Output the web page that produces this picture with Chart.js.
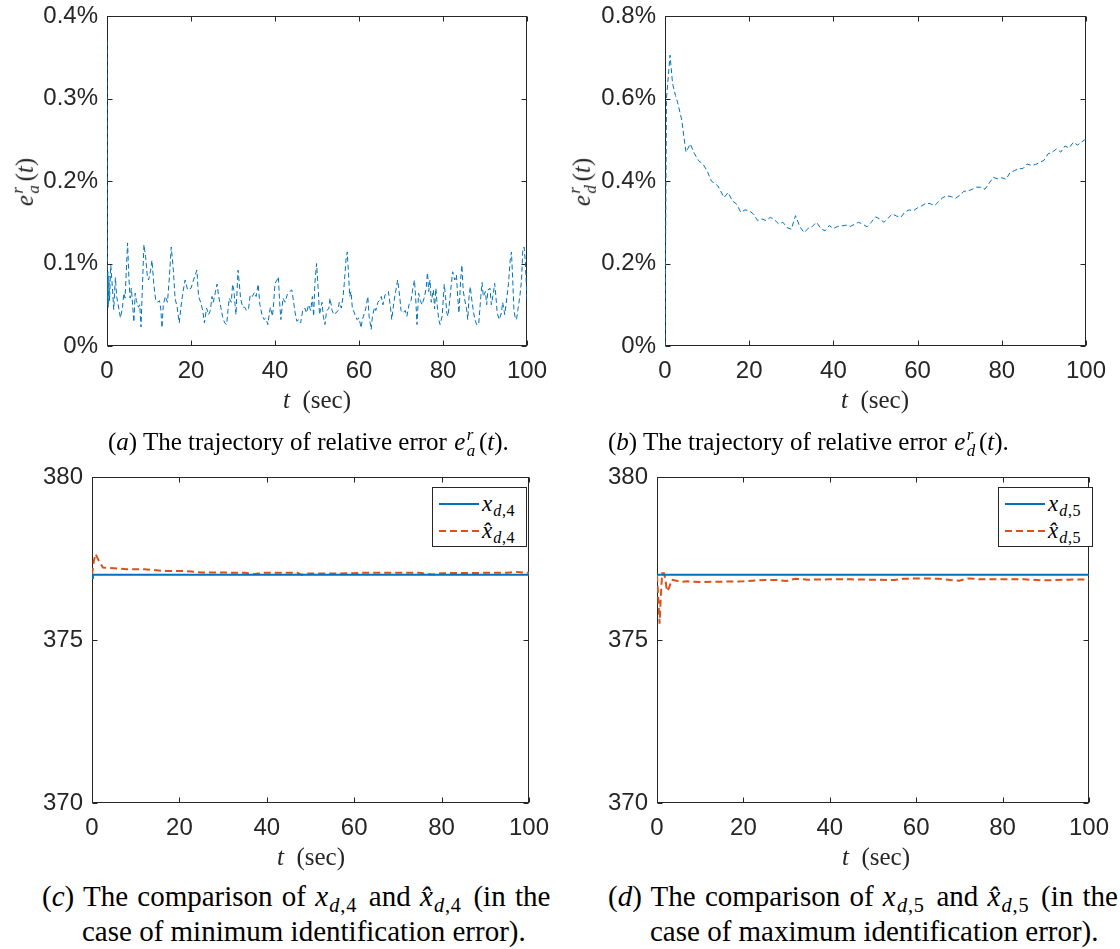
<!DOCTYPE html>
<html><head><meta charset="utf-8">
<script src="https://cdn.jsdelivr.net/npm/chart.js@4/dist/chart.umd.min.js"></script>
<style>
html,body{margin:0;padding:0;background:#fff;}
body{width:1120px;height:949px;position:relative;overflow:hidden;}
canvas{position:absolute;}
.t{position:absolute;font-family:"Liberation Serif","Times New Roman",serif;white-space:nowrap;line-height:1;}
.ax{font-size:25px;color:#262626;transform:translate(-50%,-50%);}
.yt{font-size:25px;color:#262626;transform:translate(-50%,-50%) rotate(-90deg);}
.cap{font-size:25px;color:#000;}
.cap2{font-size:29px;color:#000;}
.w{word-spacing:2px;}
.st{display:inline-block;vertical-align:-0.38em;font-size:0.68em;line-height:0.95;font-style:italic;text-align:left;margin:0 0.22em 0 0.08em;}
.st span{display:block;}
.m{margin-left:0.04em;}
sub{font-size:0.7em;vertical-align:-0.3em;line-height:0;margin:0 0.12em 0 0.06em;letter-spacing:0.04em;}
.leg{position:absolute;border:1px solid #262626;background:#fff;box-sizing:border-box;}
.lrow{position:absolute;left:0;height:24px;}
.lrow svg{position:absolute;left:5px;top:5px;}
.lrow .t{left:49px;top:0px;font-size:23px;color:#000;}
.lrow sub{margin-right:0;}
</style>
</head><body>
<canvas id="ca" width="560" height="450" style="left:0;top:-30px"></canvas>
<canvas id="cb" width="560" height="450" style="left:560px;top:-30px"></canvas>
<canvas id="cc" width="560" height="450" style="left:0;top:430px"></canvas>
<canvas id="cd" width="560" height="450" style="left:560px;top:430px"></canvas>

<div class="t yt" style="left:26px;top:182px"><i>e</i><span class="st"><span>r</span><span>a</span></span>(<i>t</i>)</div>
<div class="t yt" style="left:583px;top:182px"><i>e</i><span class="st"><span>r</span><span>d</span></span>(<i>t</i>)</div>
<div class="t ax" style="left:317px;top:399px"><i>t</i>&nbsp;&nbsp;(sec)</div>
<div class="t ax" style="left:875px;top:399px"><i>t</i>&nbsp;&nbsp;(sec)</div>
<div class="t ax" style="left:311px;top:856px"><i>t</i>&nbsp;&nbsp;(sec)</div>
<div class="t ax" style="left:876px;top:856px"><i>t</i>&nbsp;&nbsp;(sec)</div>

<div class="t cap" style="left:108px;top:427px">(<i>a</i>) The trajectory of relative error <i class="m">e</i><span class="st"><span>r</span><span>a</span></span>(<i>t</i>).</div>
<div class="t cap" style="left:608px;top:427px">(<i>b</i>) The trajectory of relative error <i class="m">e</i><span class="st"><span>r</span><span>d</span></span>(<i>t</i>).</div>
<div class="t cap2 w" style="left:42px;top:882px">(<i>c</i>) The comparison of <i>x</i><sub><i>d</i>,4</sub> and <i>x̂</i><sub><i>d</i>,4</sub> (in the</div>
<div class="t cap2" style="left:82px;top:917px">case of minimum identification error).</div>
<div class="t cap2 w" style="left:608px;top:882px">(<i>d</i>) The comparison of <i>x</i><sub><i>d</i>,5</sub> and <i>x̂</i><sub><i>d</i>,5</sub> (in the</div>
<div class="t cap2" style="left:650px;top:917px">case of maximum identification error).</div>

<div class="leg" style="left:432px;top:487px;width:95px;height:60px">
  <div class="lrow" style="top:4px"><svg width="42" height="14"><line x1="1" y1="7" x2="41" y2="7" stroke="#0072BD" stroke-width="2"/></svg><div class="t"><i>x</i><sub><i>d</i>,4</sub></div></div>
  <div class="lrow" style="top:31px"><svg width="42" height="14"><line x1="1" y1="7" x2="41" y2="7" stroke="#D95319" stroke-width="2" stroke-dasharray="7,4"/></svg><div class="t"><i>x̂</i><sub><i>d</i>,4</sub></div></div>
</div>
<div class="leg" style="left:998px;top:487px;width:95px;height:60px">
  <div class="lrow" style="top:4px"><svg width="42" height="14"><line x1="1" y1="7" x2="41" y2="7" stroke="#0072BD" stroke-width="2"/></svg><div class="t"><i>x</i><sub><i>d</i>,5</sub></div></div>
  <div class="lrow" style="top:31px"><svg width="42" height="14"><line x1="1" y1="7" x2="41" y2="7" stroke="#D95319" stroke-width="2" stroke-dasharray="7,4"/></svg><div class="t"><i>x̂</i><sub><i>d</i>,5</sub></div></div>
</div>

<script>
// ---------- data ----------
const xTickVals = [0, 20, 40, 60, 80, 100];
const xTickLabels = ['0', '20', '40', '60', '80', '100'];

const aYTickVals = [0, 0.1, 0.2, 0.3, 0.4];
const aYTickLabels = ['0%', '0.1%', '0.2%', '0.3%', '0.4%'];
const bYTickVals = [0, 0.2, 0.4, 0.6, 0.8];
const bYTickLabels = ['0%', '0.2%', '0.4%', '0.6%', '0.8%'];
const cdYTickVals = [370, 375, 380];
const cdYTickLabels = ['370', '375', '380'];

// (a) relative error e_a^r(t), in %
const ta = [0,0.1,0.2,0.3,0.45,0.6,0.9,1.3,1.6,2.0,2.3,2.8,3.2,3.7,4.0,4.3,4.9,5.2,5.5,5.8,6.1,6.4,6.7,7.0,7.5,7.8,8.1,8.4,8.8,9.2,9.6,9.9,10.4,10.7,11.2,11.6,12.1,12.5,12.8,13.1,13.4,13.9,14.4,14.8,15.3,15.8,16.2,16.7,17.2,17.6,18.1,18.6,19.2,20.0,20.6,21.4,21.8,22.3,22.8,23.2,23.7,24.2,24.6,25.0,25.3,25.8,26.2,26.6,27.1,27.5,28.0,28.5,28.8,29.1,29.6,29.9,30.2,30.7,31.2,31.5,31.8,32.3,32.8,33.2,33.7,34.1,34.6,35.1,35.5,36.0,36.4,36.9,37.4,37.8,38.3,38.6,38.9,39.4,39.7,40.0,40.5,40.8,41.1,41.4,41.9,42.4,42.9,43.5,44.0,44.3,44.8,45.2,45.7,46.1,46.6,47.1,47.5,48.0,48.5,48.9,49.2,49.5,49.9,50.3,50.6,51.2,51.5,51.9,52.3,52.8,53.1,53.6,54.0,54.5,55.0,55.3,55.8,56.2,56.5,56.9,57.2,57.5,57.8,58.1,58.4,58.9,59.2,59.5,60.0,60.5,60.8,61.3,61.6,62.1,62.4,62.9,63.2,63.7,64.0,64.5,64.8,65.3,65.7,66.2,66.7,67.0,67.5,67.8,68.3,68.8,69.2,69.7,70.0,70.5,71.0,71.4,71.9,72.4,72.7,73.2,73.5,73.8,74.2,74.6,75.0,75.5,76.0,76.3,76.6,76.9,77.2,77.7,78.0,78.3,78.7,79.0,79.3,79.8,80.3,80.6,80.9,81.2,81.7,82.0,82.3,82.8,83.2,83.5,83.8,84.2,84.5,84.8,85.1,85.6,85.9,86.2,86.5,86.8,87.3,87.6,88.0,88.5,89.0,89.3,89.6,90.1,90.4,90.7,91.2,91.5,92.0,92.3,92.6,92.9,93.4,93.9,94.2,94.7,95.2,95.6,96.0,96.3,96.6,96.9,97.2,97.5,97.8,98.3,98.7,99.0,99.3,99.6,100];
const ea = [0.37,0.05,0.09,0.047,0.085,0.055,0.098,0.07,0.044,0.083,0.06,0.046,0.034,0.047,0.064,0.058,0.125,0.084,0.058,0.07,0.05,0.029,0.064,0.055,0.047,0.05,0.023,0.068,0.123,0.108,0.084,0.08,0.092,0.104,0.072,0.055,0.053,0.055,0.045,0.022,0.05,0.06,0.053,0.08,0.12,0.092,0.058,0.047,0.028,0.047,0.066,0.08,0.068,0.07,0.08,0.092,0.06,0.053,0.043,0.028,0.046,0.038,0.043,0.06,0.053,0.065,0.075,0.06,0.047,0.036,0.028,0.026,0.043,0.058,0.053,0.075,0.068,0.038,0.092,0.076,0.058,0.047,0.047,0.043,0.045,0.062,0.06,0.065,0.06,0.075,0.05,0.038,0.032,0.034,0.026,0.038,0.047,0.036,0.053,0.076,0.08,0.084,0.053,0.032,0.058,0.053,0.062,0.066,0.068,0.058,0.04,0.03,0.032,0.028,0.043,0.046,0.04,0.05,0.043,0.06,0.036,0.076,0.1,0.068,0.038,0.053,0.036,0.026,0.043,0.045,0.058,0.043,0.038,0.04,0.043,0.053,0.046,0.06,0.076,0.104,0.114,0.088,0.06,0.066,0.047,0.04,0.036,0.032,0.034,0.022,0.032,0.04,0.045,0.06,0.036,0.02,0.036,0.047,0.043,0.053,0.055,0.06,0.05,0.062,0.064,0.066,0.047,0.032,0.053,0.068,0.08,0.06,0.043,0.04,0.043,0.036,0.05,0.055,0.066,0.08,0.058,0.026,0.064,0.055,0.05,0.058,0.07,0.089,0.066,0.08,0.053,0.068,0.045,0.07,0.045,0.032,0.026,0.036,0.075,0.06,0.04,0.036,0.06,0.076,0.09,0.08,0.086,0.06,0.04,0.08,0.098,0.068,0.058,0.045,0.032,0.06,0.072,0.058,0.04,0.032,0.026,0.026,0.06,0.077,0.06,0.066,0.05,0.068,0.07,0.05,0.064,0.076,0.06,0.04,0.032,0.04,0.053,0.038,0.058,0.076,0.104,0.114,0.08,0.043,0.034,0.032,0.043,0.06,0.08,0.117,0.12,0.103,0.055];

// (b) relative error e_d^r(t), in %
const tb = [0,0.35,1.2,1.8,2.5,3,4,4.5,5,5.5,6,7,8,9,10,11,12.5,13,14,15,16,17,18,19,20,21,22,23,24,25,26,27,28,29,30,31,32,33,34,35,36,37,38,39,40,41,42,43,44,45,46,47,48,49,50,51,52,53,54,55,56,57,58,59,60,61,62,63,64,65,66,67,68,69,70,71,72,73,74,75,76,77,78,79,80,81,82,83,84,85,86,87,88,89,90,91,92,93,94,95,96,97,98,99,100];
const eb = [0,0.6,0.705,0.636,0.607,0.59,0.547,0.506,0.47,0.48,0.49,0.466,0.449,0.441,0.425,0.40,0.389,0.38,0.36,0.372,0.352,0.344,0.324,0.33,0.328,0.32,0.304,0.308,0.304,0.312,0.306,0.296,0.30,0.287,0.283,0.316,0.29,0.275,0.285,0.29,0.30,0.285,0.279,0.292,0.285,0.29,0.291,0.293,0.29,0.295,0.30,0.295,0.289,0.30,0.313,0.308,0.30,0.31,0.32,0.315,0.312,0.325,0.33,0.328,0.335,0.34,0.346,0.345,0.34,0.35,0.36,0.364,0.362,0.358,0.365,0.375,0.376,0.38,0.385,0.385,0.38,0.395,0.409,0.405,0.408,0.404,0.421,0.425,0.43,0.43,0.441,0.438,0.44,0.445,0.45,0.466,0.47,0.478,0.47,0.485,0.48,0.494,0.487,0.495,0.502];

// (c) x_{d,4} and its estimate
const tc = [0, 0.2, 100];
const xc = [376.9, 377.0, 377.0];
const tcHat = [0,0.4,0.8,1.5,2.5,5,8,12,14,16,20,22.7,25,30,35,37,39,45,47,48,49.5,55,60,62,70,75,78,80,90,95,97,100];
const xcHat = [377.0,377.4,377.64,377.45,377.22,377.2,377.17,377.17,377.15,377.12,377.12,377.1,377.07,377.07,377.06,377.02,377.06,377.06,377.06,377.0,377.04,377.04,377.05,377.06,377.06,377.06,377.01,377.05,377.06,377.06,377.09,377.06];

// (d) x_{d,5} and its estimate
const td = [0, 100];
const xd = [377.0, 377.0];
const tdHat = [0,0.3,0.6,0.9,1.2,1.6,1.9,2.3,2.8,3.4,4.5,5.6,7,10,15,20,25,28,30,32,35,40,45,50,55,57,62,65,68,70,72,75,80,85,88,90,95,100];
const xdHat = [377.0,376.3,375.5,376.4,377.05,377.05,376.9,376.5,376.6,376.85,376.82,376.78,376.8,376.78,376.79,376.8,376.84,376.84,376.81,376.88,376.85,376.86,376.86,376.85,376.84,376.88,376.89,376.88,376.84,376.82,376.89,376.86,376.86,376.86,376.84,376.83,376.85,376.86];

// ---------- styles ----------
const BLUE = '#0072BD', ORANGE = '#D95319', AXC = '#262626';
const tickFont = {family: '"Liberation Sans", Arial, Helvetica, sans-serif', size: 24};
const CANVAS_H = 450;

const framePlugin = {
  id: 'frame',
  beforeDatasetsDraw(chart) {
    const {ctx, chartArea: ca, scales} = chart;
    const L = Math.round(ca.left) + 0.5, R = Math.round(ca.right) - 0.5;
    const T = Math.round(ca.top) + 0.5, B = Math.round(ca.bottom) - 0.5;
    ctx.save();
    ctx.strokeStyle = AXC; ctx.lineWidth = 1;
    ctx.strokeRect(L, T, R - L, B - T);
    const tl = 5;
    ctx.beginPath();
    scales.x.ticks.forEach(t => {
      const p = Math.round(scales.x.getPixelForValue(t.value)) + 0.5;
      ctx.moveTo(p, B); ctx.lineTo(p, B - tl);
      ctx.moveTo(p, T); ctx.lineTo(p, T + tl);
    });
    scales.y.ticks.forEach(t => {
      const p = Math.round(scales.y.getPixelForValue(t.value)) + 0.5;
      ctx.moveTo(L, p); ctx.lineTo(L + tl, p);
      ctx.moveTo(R, p); ctx.lineTo(R - tl, p);
    });
    ctx.stroke();
    ctx.restore();
  }
};

function pts(xs, ys) { return xs.map((x, i) => ({x: x, y: ys[i]})); }

// box: chart-area edges in canvas coordinates
function makeChart(id, datasets, ymin, ymax, yVals, yLabels, box) {
  return new Chart(document.getElementById(id), {
    type: 'line',
    data: {datasets: datasets},
    options: {
      responsive: false, animation: false, devicePixelRatio: 1,
      layout: {padding: {left: 0, top: box.top, right: 560 - box.right, bottom: 0}},
      plugins: {legend: {display: false}, tooltip: {enabled: false}},
      elements: {point: {radius: 0}, line: {tension: 0}},
      scales: {
        x: {
          type: 'linear', min: 0, max: 100,
          afterBuildTicks: s => { s.ticks = xTickVals.map(v => ({value: v})); },
          afterFit: s => { s.height = CANVAS_H - box.bottom; },
          ticks: {callback: (v, i) => xTickLabels[i], font: tickFont, color: AXC, padding: 11, maxRotation: 0, autoSkip: false},
          grid: {display: false, drawTicks: false},
          border: {display: false}
        },
        y: {
          type: 'linear', min: ymin, max: ymax,
          afterBuildTicks: s => { s.ticks = yVals.map(v => ({value: v})); },
          afterFit: s => { s.width = box.left; },
          ticks: {callback: (v, i) => yLabels[i], font: tickFont, color: AXC, padding: 9, autoSkip: false},
          grid: {display: false, drawTicks: false},
          border: {display: false}
        }
      }
    },
    plugins: [framePlugin]
  });
}

// top row canvases start at y=-30, bottom row at y=430
makeChart('ca', [{data: pts(ta, ea), borderColor: BLUE, borderWidth: 1, borderDash: [5, 3], fill: false}],
  0, 0.4, aYTickVals, aYTickLabels, {left: 107, right: 527, top: 46, bottom: 376});
makeChart('cb', [{data: pts(tb, eb), borderColor: BLUE, borderWidth: 1, borderDash: [5, 3], fill: false}],
  0, 0.8, bYTickVals, bYTickLabels, {left: 105, right: 526, top: 46, bottom: 376});
makeChart('cc', [
  {data: pts(tc, xc), borderColor: BLUE, borderWidth: 2, fill: false},
  {data: pts(tcHat, xcHat), borderColor: ORANGE, borderWidth: 2, borderDash: [7, 4], fill: false}],
  370, 380, cdYTickVals, cdYTickLabels, {left: 92, right: 530, top: 47, bottom: 373});
makeChart('cd', [
  {data: pts(td, xd), borderColor: BLUE, borderWidth: 2, fill: false},
  {data: pts(tdHat, xdHat), borderColor: ORANGE, borderWidth: 2, borderDash: [7, 4], fill: false}],
  370, 380, cdYTickVals, cdYTickLabels, {left: 97, right: 535, top: 47, bottom: 373});
</script>
</body></html>
